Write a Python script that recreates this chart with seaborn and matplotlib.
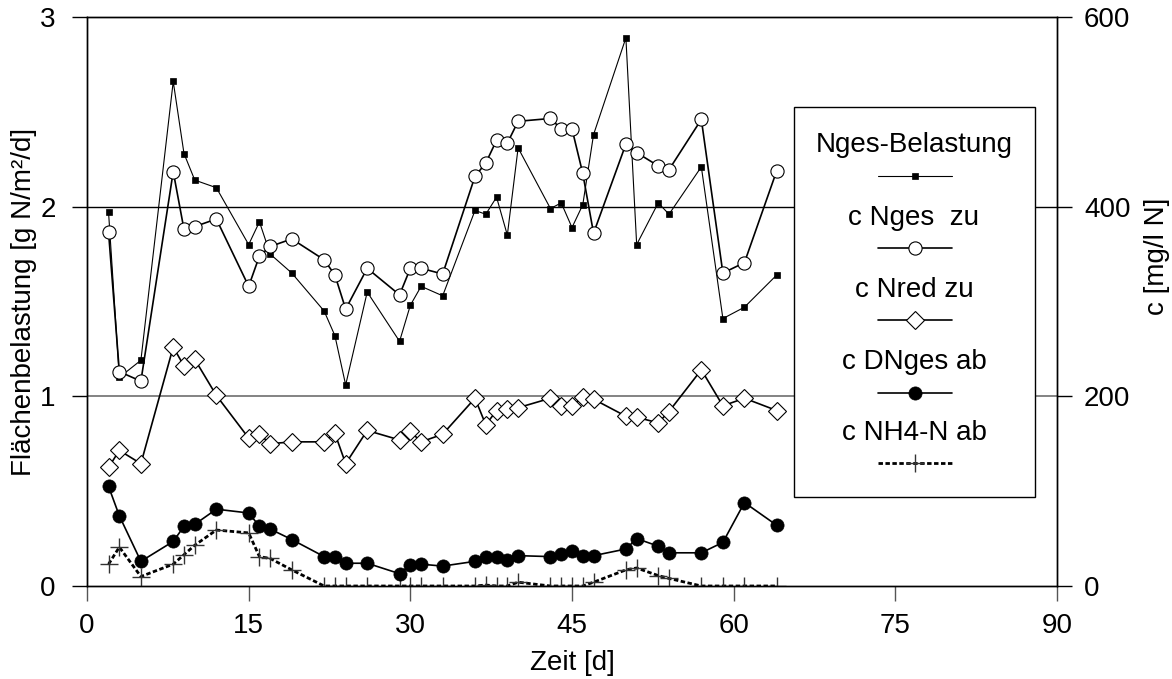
import matplotlib
matplotlib.use("Agg")
import matplotlib.pyplot as plt
from matplotlib.lines import Line2D
from matplotlib.patches import Rectangle
import pandas as pd
import seaborn as sns

# Sampling days of the trial
days = [2, 3, 5, 8, 9, 10, 12, 15, 16, 17, 19, 22, 23, 24, 26, 29, 30, 31, 33,
        36, 37, 38, 39, 40, 43, 44, 45, 46, 47, 50, 51, 53, 54, 57, 59, 61, 64]

# Surface loading, g N/m²/d (left axis)
nges_belastung = [1.97, 1.10, 1.19, 2.66, 2.28, 2.14, 2.10, 1.80, 1.92, 1.75, 1.65,
                  1.45, 1.32, 1.06, 1.55, 1.29, 1.48, 1.58, 1.53, 1.98, 1.96, 2.05,
                  1.85, 2.31, 1.99, 2.02, 1.89, 2.01, 2.38, 2.89, 1.80, 2.02, 1.96,
                  2.21, 1.41, 1.47, 1.64]

# Concentrations, mg/l N (right axis)
c_nges_zu = [373, 226, 216, 437, 376, 379, 387, 316, 348, 358, 366, 344, 328, 292,
             335, 307, 335, 335, 329, 432, 446, 470, 467, 490, 493, 482, 482, 435,
             372, 466, 457, 443, 439, 492, 330, 341, 438]
c_nred_zu = [125, 143, 129, 252, 232, 239, 201, 156, 160, 150, 152, 152, 161, 129,
             164, 154, 163, 152, 160, 198, 170, 185, 187, 188, 198, 190, 190, 199,
             197, 179, 178, 172, 184, 228, 190, 198, 185]
c_dnges_ab = [105, 74, 26, 47, 63, 65, 81, 77, 63, 60, 49, 31, 31, 24, 24, 13, 22,
              23, 21, 26, 31, 31, 27, 32, 31, 34, 37, 32, 32, 39, 50, 42, 35, 35,
              46, 88, 64]
c_nh4_ab = [23, 41, 10, 23, 33, 43, 59, 56, 31, 29, 17, 0, 0, 0, 0, 0, 0, 0, 0,
            0, 1, 0, 0, 4, 0, 0, 0, 0, 4, 17, 19, 11, 8, 0, 0, 0, 0]

series_labels = ["Nges-Belastung", "c Nges  zu", "c Nred zu", "c DNges ab", "c NH4-N ab"]
x_ticks = [0, 15, 30, 45, 60, 75, 90]
left_ticks = [0, 1, 2, 3]
right_ticks = [0, 200, 400, 600]

sns.set_theme(style="white")
plt.rcParams.update({
    "font.family": ["Liberation Sans", "DejaVu Sans"],
    "font.size": 20,
    "text.color": "black",
    "axes.labelcolor": "black",
    "axes.edgecolor": "black",
    "axes.linewidth": 1.0,
    "xtick.color": "black",
    "ytick.color": "black",
    "xtick.bottom": True,
    "ytick.left": True,
    "xtick.direction": "out",
    "ytick.direction": "out",
    "xtick.major.size": 10.5,
    "ytick.major.size": 10.5,
    "xtick.major.width": 1.0,
    "ytick.major.width": 1.0,
})

df = pd.DataFrame({
    "Zeit": days,
    "belastung": nges_belastung,
    "nges_zu": c_nges_zu,
    "nred_zu": c_nred_zu,
    "dnges_ab": c_dnges_ab,
    "nh4_ab": c_nh4_ab,
})

W, H = 1172, 679
fig = plt.figure(figsize=(W / 100, H / 100), dpi=100)
ax = fig.add_axes([87 / W, 1 - 586 / H, (1057 - 87) / W, (586 - 17) / H])
ax2 = ax.twinx()

# Per-series styling
styles = {
    "belastung": dict(color="black", lw=0.8, marker="s", markersize=5,
                      markerfacecolor="black", markeredgecolor="black", markeredgewidth=0.5),
    "nges_zu": dict(color="black", lw=1.2, marker="o", markersize=9.5,
                    markerfacecolor="white", markeredgecolor="black", markeredgewidth=0.8),
    "nred_zu": dict(color="black", lw=1.2, marker="D", markersize=9.5,
                    markerfacecolor="white", markeredgecolor="black", markeredgewidth=0.8),
    "dnges_ab": dict(color="black", lw=1.2, marker="o", markersize=9.5,
                     markerfacecolor="black", markeredgecolor="black", markeredgewidth=0.5),
    "nh4_ab": dict(color="black", lw=2.0, linestyle=(0, (1.6, 0.9)), marker="+",
                   markersize=13, markeredgecolor="#333333", markeredgewidth=1.0),
}

sns.lineplot(data=df, x="Zeit", y="belastung", ax=ax, estimator=None, sort=False,
             legend=False, **styles["belastung"])
for col in ["nh4_ab", "dnges_ab", "nred_zu", "nges_zu"]:
    sns.lineplot(data=df, x="Zeit", y=col, ax=ax2, estimator=None, sort=False,
                 legend=False, **styles[col])

# Axes ranges and ticks
ax.set_xlim(0, 90)
ax.set_xticks(x_ticks)
ax.set_ylim(0, 3)
ax.set_yticks(left_ticks)
ax2.set_ylim(0, 600)
ax2.set_yticks(right_ticks)

ax.tick_params(axis="x", which="major", direction="out", length=10.5, width=1.0,
               color="#555555", pad=9, labelsize=20, bottom=True, top=False)
ax.tick_params(axis="y", which="major", direction="out", length=10.5, width=1.0,
               color="black", pad=12, labelsize=20, left=True, right=False)
ax2.tick_params(axis="y", which="major", direction="out", length=10.5, width=1.0,
                color="black", pad=9, labelsize=20, right=True, left=False)

# Horizontal gridlines at 1 and 2
ax.yaxis.grid(True, lw=1.0)
gl = ax.get_ygridlines()
gl[0].set_visible(False)
gl[3].set_visible(False)
gl[1].set_color("#7a7a7a")
gl[1].set_linewidth(1.3)
gl[2].set_color("black")
gl[2].set_linewidth(1.0)
ax.xaxis.grid(False)
ax2.grid(False)

for a in (ax, ax2):
    for s in a.spines.values():
        s.set_color("black")
        s.set_linewidth(1.0)

ax.set_xlabel("Zeit [d]", fontsize=20)
ax.set_ylabel("Flächenbelastung [g N/m²/d]", fontsize=20)
ax2.set_ylabel("c [mg/l N]", fontsize=20, rotation=90)
ax.xaxis.set_label_coords(0.5, -0.112)
ax.yaxis.set_label_coords(-0.052, 0.5)
ax2.yaxis.set_label_coords(1.09, 0.58)

# Legend box with the label above each line sample
def fx(px):
    return px / W

def fy(py):
    return 1 - py / H

box = Rectangle((fx(794), fy(497)), fx(1035) - fx(794), fy(107) - fy(497),
                transform=fig.transFigure, facecolor="white", edgecolor="black",
                lw=1.0, zorder=10)
fig.add_artist(box)

text_y = [145, 218, 290, 362, 433]
line_y = [176, 248, 320, 393, 463]
keys = ["belastung", "nges_zu", "nred_zu", "dnges_ab", "nh4_ab"]
for lab, ty, ly, key in zip(series_labels, text_y, line_y, keys):
    fig.text(fx(914), fy(ty), lab, ha="center", va="center", fontsize=20, zorder=11)
    st = dict(styles[key])
    color = st.pop("color")
    lw = st.pop("lw")
    ls = st.pop("linestyle", "-")
    fig.add_artist(Line2D([fx(878), fx(952)], [fy(ly), fy(ly)], transform=fig.transFigure,
                          color=color, lw=lw, linestyle=ls, zorder=11))
    fig.add_artist(Line2D([fx(915)], [fy(ly)], transform=fig.transFigure,
                          linestyle="none", zorder=12, **st))

fig.savefig("out.png", dpi=100)
